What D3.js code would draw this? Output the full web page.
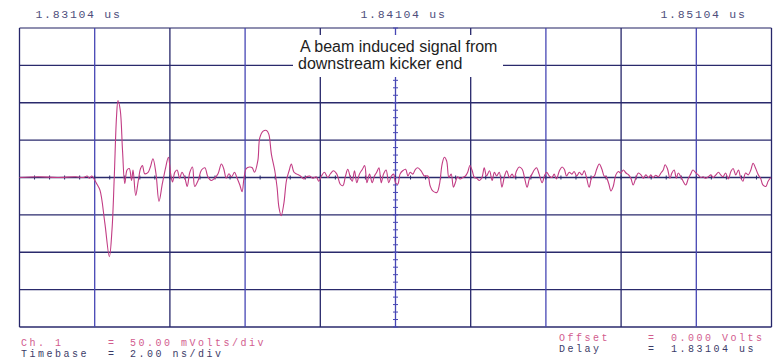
<!DOCTYPE html>
<html>
<head>
<meta charset="utf-8">
<script src="https://cdn.jsdelivr.net/npm/d3@7/dist/d3.min.js"></script>
<style>
  html, body { margin: 0; padding: 0; background: #fff; }
  svg { display: block; }
  .mono { font-family: "Liberation Mono", "DejaVu Sans Mono", monospace; }
</style>
</head>
<body>
<svg id="chart" width="776" height="360"></svg>
<script>
// Screen settings of the scope (2 ns/div, 50 mV/div, 10 x 8 divisions)
const timeDomainNs = [0, 20];
const voltDomainMv = [-200, 200];
const timeGridNs = [0, 2, 4, 6, 8, 10, 12, 14, 16, 18, 20];
const voltGridMv = [-200, -150, -100, -50, 0, 50, 100, 150, 200];

// Time labels along the top edge
const topLabelTimes = [0, 10, 20];
const topLabels = ["1.83104 us", "1.84104 us", "1.85104 us"];

// Channel 1 trace: [time in ns, voltage in mV]
const trace = [
  [0, 0], [0.5, 1], [1.0, 0], [1.5, 1], [1.7, 0], [1.8, 2], [1.86, -1], [1.92, 2],
  [1.96, 0], [2.05, -8], [2.14, -17], [2.27, -61], [2.39, -106], [2.46, -70], [2.52, 0],
  [2.58, 81], [2.62, 103], [2.68, 90], [2.74, 36], [2.80, -8], [2.86, 10], [2.92, 12],
  [2.98, -4], [3.02, 10], [3.09, -24], [3.16, -4], [3.22, 12], [3.27, 16], [3.33, 5],
  [3.42, 7], [3.48, 14], [3.55, 25], [3.63, 5], [3.71, -32], [3.80, -8], [3.89, 14],
  [3.96, 27], [4.02, 5], [4.07, -6], [4.13, 7], [4.19, 10], [4.26, -1], [4.32, 7],
  [4.40, -1], [4.46, -12], [4.53, 7], [4.60, 14], [4.66, -12], [4.75, -4], [4.84, 10],
  [4.93, 13], [5.01, 1], [5.10, -4], [5.19, -1], [5.28, 5], [5.37, 18], [5.43, 12],
  [5.50, -1], [5.57, 5], [5.64, 1], [5.72, 7], [5.78, 0], [5.86, -10], [5.92, -19],
  [5.97, -1], [6.03, 12], [6.12, 14], [6.19, 13], [6.25, 7], [6.34, 23], [6.39, 53],
  [6.48, 62], [6.57, 63], [6.63, 58], [6.70, 31], [6.79, 9], [6.85, -13], [6.90, -40],
  [6.96, -51], [7.03, -35], [7.10, -4], [7.17, 9], [7.23, 18], [7.30, 7], [7.38, 4.5],
  [7.47, 2], [7.56, -2], [7.63, 1], [7.72, 2], [7.80, -1], [7.89, 1], [7.96, -5],
  [8.03, 2], [8.11, 7], [8.20, 0], [8.27, 5], [8.35, 9], [8.44, 4.5], [8.53, -9],
  [8.60, -11], [8.67, 2], [8.73, 11], [8.80, 0], [8.85, -5], [8.91, 9], [8.97, -7],
  [9.04, 4.5], [9.12, 11], [9.18, 16], [9.24, -7], [9.31, 4.5], [9.38, -7], [9.44, 2],
  [9.50, 7], [9.56, 13], [9.62, -7], [9.68, 4.5], [9.75, 10], [9.82, -7], [9.89, 2],
  [9.95, 4.5], [10.00, -7], [10.06, -9], [10.12, 4.5], [10.19, 9], [10.27, 11], [10.33, 2],
  [10.39, 7], [10.46, 4.5], [10.53, 11], [10.59, 13], [10.68, 9], [10.77, 2], [10.86, 2],
  [10.92, -11], [10.99, -18], [11.10, -20], [11.17, -9], [11.24, 18], [11.30, 27],
  [11.36, 22], [11.42, 0], [11.48, 4.5], [11.54, -13], [11.59, -7], [11.65, 1], [11.72, -2],
  [11.79, 0], [11.86, 2], [11.92, 7], [11.98, 16], [12.04, 9], [12.10, 0], [12.16, -1],
  [12.23, -4], [12.30, 0], [12.36, 13], [12.42, 2], [12.50, 9], [12.57, -4], [12.63, 7],
  [12.69, 2], [12.76, 7], [12.83, -13], [12.90, 2], [12.96, 9], [13.03, 0], [13.10, 4.5],
  [13.16, 0], [13.22, 9], [13.29, 14], [13.37, 11], [13.43, 0], [13.50, -13], [13.56, -2],
  [13.63, 4.5], [13.69, 10], [13.75, 13], [13.82, 4.5], [13.90, -7], [13.96, 2], [14.02, 7],
  [14.09, 2], [14.16, 0], [14.22, 4.5], [14.28, -2], [14.36, 9], [14.43, 14], [14.49, 11],
  [14.55, 2], [14.62, 7], [14.69, 4.5], [14.75, 8], [14.82, 2], [14.89, 7], [14.96, 3.5],
  [15.02, 9], [15.08, 0], [15.15, -13], [15.22, 0], [15.29, 2], [15.35, 11], [15.42, 18],
  [15.49, 11], [15.55, 2], [15.60, 1], [15.67, -8], [15.73, -18], [15.79, -12], [15.86, 3.5],
  [15.93, 8], [15.99, 6], [16.06, 10], [16.13, 6], [16.20, 3.5], [16.26, -1], [16.32, -10],
  [16.39, -1], [16.46, 6], [16.53, 3.5], [16.59, -1], [16.66, 3.5], [16.73, 0], [16.79, 3.5],
  [16.85, 0], [16.92, 3], [16.99, 1], [17.06, 6], [17.12, 10], [17.17, 17], [17.23, 12],
  [17.30, -1], [17.35, 6], [17.41, 10], [17.47, -1], [17.52, 6], [17.59, 1], [17.65, -5],
  [17.72, -10], [17.79, -1], [17.85, 4.5], [17.91, 10], [17.99, 6], [18.06, 3], [18.12, 0],
  [18.18, 1], [18.25, -1], [18.32, 1], [18.39, 3.5], [18.45, 0], [18.52, 3.5], [18.59, 7],
  [18.65, 3.5], [18.71, 1], [18.78, 6], [18.85, -2], [18.92, 8], [18.98, 12], [19.05, 3.5],
  [19.12, 10], [19.18, 0], [19.24, -5], [19.31, 6], [19.38, 3.5], [19.45, 10], [19.51, 19],
  [19.58, 12], [19.65, 3.5], [19.71, -1], [19.77, -10], [19.85, -12], [19.91, -5], [19.98, 0]
];

// Readout lines under the screen
const readoutLeft = [
  { label: "Ch. 1", eq: "=", value: "50.00 mVolts/div", color: "#d25c8e" },
  { label: "Timebase", eq: "=", value: "2.00 ns/div", color: "#3b3b68" }
];
const readoutRight = [
  { label: "Offset", eq: "=", value: "0.000  Volts", color: "#d25c8e" },
  { label: "Delay", eq: "=", value: "1.83104 us", color: "#3b3b68" }
];

const noteLines = ["A beam induced signal from", "downstream kicker end"];

const svg = d3.select("#chart");
const plotLeft = 19.5, plotRight = 771.5, plotTop = 28, plotBottom = 327;

const x = d3.scaleLinear().domain(timeDomainNs).range([plotLeft, plotRight]);
const y = d3.scaleLinear().domain(voltDomainMv).range([plotBottom, plotTop]);

// Graticule
const grid = svg.append("g");
grid.selectAll("line.h").data(voltGridMv).join("line")
  .attr("x1", plotLeft).attr("x2", plotRight)
  .attr("y1", d => y(d)).attr("y2", d => y(d))
  .attr("stroke", (d, i) => (i === voltGridMv.length - 1 ? "#6a6a96" : "#2a2a6c"))
  .attr("stroke-width", 1.3);
grid.selectAll("line.v").data(timeGridNs).join("line")
  .attr("y1", plotTop).attr("y2", plotBottom)
  .attr("x1", d => x(d)).attr("x2", d => x(d))
  .attr("stroke", (d, i) => (i % 2 === 0 ? "#26266a" : "#4646b4"))
  .attr("stroke-width", 1.3);

// Minor ticks along the centre axes (fifths of a division)
const minorT = d3.range(0, 20.001, 0.4);
const minorV = d3.range(-200, 200.001, 10);
grid.selectAll("line.mt").data(minorT).join("line")
  .attr("x1", d => x(d)).attr("x2", d => x(d))
  .attr("y1", y(0) - 2).attr("y2", y(0) + 2)
  .attr("stroke", "#2a2a6c").attr("stroke-width", 1);
grid.selectAll("line.mv").data(minorV).join("line")
  .attr("y1", d => y(d)).attr("y2", d => y(d))
  .attr("x1", x(10) - 2.5).attr("x2", x(10) + 2.5)
  .attr("stroke", "#4646b4").attr("stroke-width", 1);

// Trace
const line = d3.line()
  .x(d => x(d[0]))
  .y(d => y(d[1]))
  .curve(d3.curveCatmullRom.alpha(0.5));
svg.append("path")
  .datum(trace)
  .attr("d", line)
  .attr("fill", "none")
  .attr("stroke", "#c23c84")
  .attr("stroke-width", 1.1)
  .attr("stroke-linejoin", "round");

// Annotation with a white backing
const note = svg.append("g");
note.append("rect")
  .attr("x", 293).attr("y", 35).attr("width", 210).attr("height", 42)
  .attr("fill", "#fff");
note.selectAll("text").data(noteLines).join("text")
  .attr("x", (d, i) => (i === 0 ? 300 : 298))
  .attr("y", (d, i) => 51.5 + i * 17.8)
  .attr("font-family", "Liberation Sans, Arial, sans-serif")
  .attr("font-size", 16)
  .attr("fill", "#1e1e1e")
  .text(d => d);

// Time labels above the screen
svg.append("g").selectAll("text").data(topLabels).join("text")
  .attr("class", "mono")
  .attr("x", (d, i) => x(topLabelTimes[i]) + [16, -35, -111][i])
  .attr("y", 18)
  .attr("font-size", 11.5)
  .attr("letter-spacing", 1.7)
  .attr("fill", "#4e4e7c")
  .text(d => d);

// Readouts
function readout(rows, xs, y0) {
  const g = svg.append("g").attr("class", "mono")
    .attr("font-size", 10).attr("letter-spacing", 2.5);
  rows.forEach((r, i) => {
    const yy = y0 + i * 11;
    g.append("text").attr("x", xs[0]).attr("y", yy).attr("fill", r.color).text(r.label);
    g.append("text").attr("x", xs[1]).attr("y", yy).attr("fill", r.color).text(r.eq);
    g.append("text").attr("x", xs[2]).attr("y", yy).attr("fill", r.color).text(r.value);
  });
}
readout(readoutLeft, [21, 108, 130], 345.5);
readout(readoutRight, [559, 648, 671], 341);
</script>
</body>
</html>
